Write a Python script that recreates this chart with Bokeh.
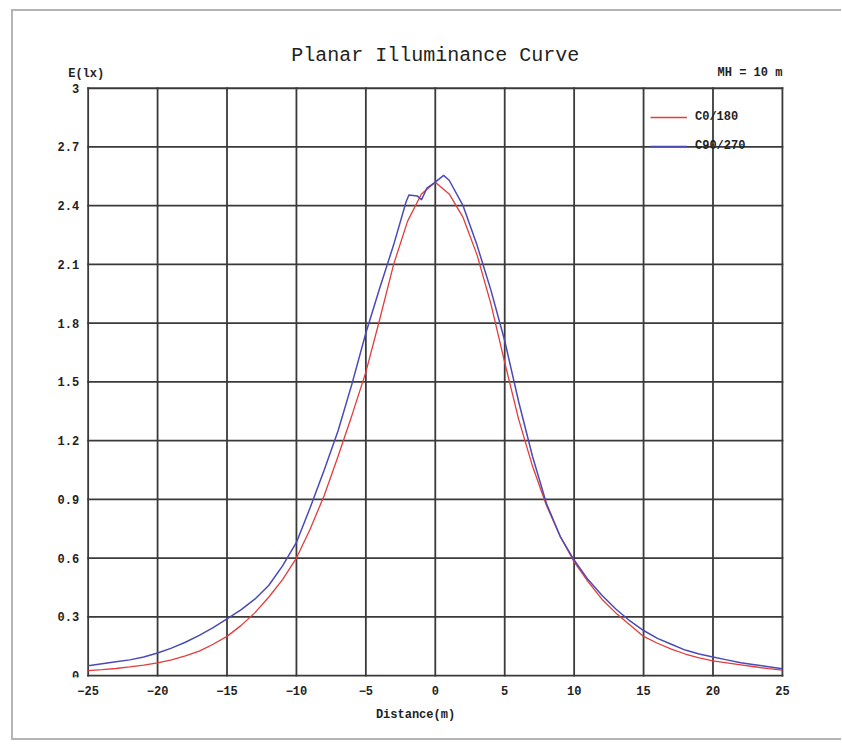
from bokeh.plotting import figure
from bokeh.models import Range1d, FixedTicker, Label
from bokeh.embed import file_html
from bokeh.resources import INLINE

# ---------------- data ----------------
title_text = "Planar Illuminance Curve"
y_axis_title = "E(lx)"
mh_text = "MH = 10 m"
x_axis_title = "Distance(m)"

x_ticks = [-25, -20, -15, -10, -5, 0, 5, 10, 15, 20, 25]
y_ticks = [0, 0.3, 0.6, 0.9, 1.2, 1.5, 1.8, 2.1, 2.4, 2.7, 3]
y_tick_labels = ["0", "0.3", "0.6", "0.9", "1.2", "1.5", "1.8", "2.1", "2.4", "2.7", "3"]

series_names = ["C0/180", "C90/270"]

c0_x = list(range(-25, 26))
c0_y = [0.025, 0.03, 0.036, 0.044, 0.053, 0.065, 0.08, 0.10, 0.125, 0.16,
        0.20, 0.255, 0.32, 0.40, 0.49, 0.60, 0.75, 0.92, 1.12, 1.33,
        1.55, 1.82, 2.10, 2.32, 2.46, 2.52, 2.46, 2.34, 2.15, 1.90,
        1.60, 1.31, 1.07, 0.87, 0.71, 0.58, 0.48, 0.39, 0.32, 0.26,
        0.20, 0.165, 0.135, 0.11, 0.09, 0.075, 0.065, 0.055, 0.045, 0.035,
        0.028]

c90_x = [-25, -24, -23, -22, -21, -20, -19, -18, -17, -16, -15, -14, -13, -12,
         -11, -10, -9, -8, -7, -6, -5, -4, -3, -2.1, -1.9, -1.3, -1.0, -0.6,
         0, 0.6, 1, 2, 3, 4, 5, 6, 7, 8, 9, 10, 11, 12, 13, 14, 15, 16, 17,
         18, 19, 20, 21, 22, 23, 24, 25]
c90_y = [0.05, 0.06, 0.07, 0.08, 0.095, 0.115, 0.14, 0.17, 0.205, 0.245,
         0.29, 0.335, 0.39, 0.46, 0.56, 0.68, 0.86, 1.05, 1.25, 1.49,
         1.75, 1.98, 2.20, 2.42, 2.455, 2.45, 2.43, 2.49,
         2.52, 2.555, 2.53, 2.40, 2.20, 1.97, 1.71, 1.40, 1.12, 0.88, 0.71, 0.59,
         0.49, 0.41, 0.34, 0.28, 0.23, 0.19, 0.16, 0.13, 0.11, 0.095,
         0.08, 0.065, 0.055, 0.045, 0.035]

# ---------------- figure ----------------
FONT = "Liberation Mono"
GRID = "#3a3a3a"
TXT = "#222222"

p = figure(
    frame_width=738, frame_height=648,
    x_range=Range1d(-28, 25.15), y_range=Range1d(-0.01, 3.3),
    output_backend="svg", toolbar_location=None,
    min_border_left=33, min_border_right=57,
    min_border_top=18, min_border_bottom=61,
    background_fill_color="white", border_fill_color="white",
)
p.styles = {
    "margin-left": "11px", "margin-top": "9px",
    "border-left": "2px solid #b4b4b4",
    "border-top": "2px solid #b4b4b4",
    "border-bottom": "2px solid #b4b4b4",
    "border-right": "0px none white",
}
p.outline_line_color = None
p.grid.visible = False

p.xaxis.ticker = FixedTicker(ticks=x_ticks)
p.yaxis.ticker = FixedTicker(ticks=y_ticks)
p.yaxis.major_label_overrides = {t: l for t, l in zip(y_ticks, y_tick_labels)}
p.yaxis.fixed_location = x_ticks[0]

for ax in (p.xaxis[0], p.yaxis[0]):
    ax.axis_line_color = None
    ax.major_tick_line_color = None
    ax.minor_tick_line_color = None
    ax.major_tick_out = 0
    ax.major_tick_in = 0
    ax.major_label_text_font = FONT
    ax.major_label_text_font_style = "bold"
    ax.major_label_text_font_size = "12px"
    ax.major_label_text_color = TXT

p.xaxis.major_label_standoff = 8
p.yaxis.major_label_standoff = 9
p.xaxis.axis_label = x_axis_title
p.xaxis.axis_label_text_font = FONT
p.xaxis.axis_label_text_font_style = "bold"
p.xaxis.axis_label_text_font_size = "12px"
p.xaxis.axis_label_text_color = TXT
p.xaxis.axis_label_standoff = 10

# grid box limited to the data area (drawn from the tick arrays)
n_x = len(x_ticks)
n_y = len(y_ticks)
p.segment(x0=x_ticks, y0=[y_ticks[0]] * n_x, x1=x_ticks, y1=[y_ticks[-1]] * n_x,
          line_color=GRID, line_width=1.8, line_cap="square")
p.segment(x0=[x_ticks[0]] * n_y, y0=y_ticks, x1=[x_ticks[-1]] * n_y, y1=y_ticks,
          line_color=GRID, line_width=1.8, line_cap="square")

p.line(c0_x, c0_y, line_color="#e23c3c", line_width=1.3, legend_label=series_names[0])
p.line(c90_x, c90_y, line_color="#4a4ab8", line_width=1.5, legend_label=series_names[1])

lg = p.legend[0]
lg.location = (604, 521)
lg.border_line_color = None
lg.background_fill_alpha = 0
lg.padding = 0
lg.margin = 0
lg.spacing = 9
lg.glyph_width = 37
lg.glyph_height = 20
lg.label_height = 20
lg.label_standoff = 8
lg.label_text_font = FONT
lg.label_text_font_style = "bold"
lg.label_text_font_size = "12px"
lg.label_text_color = TXT

p.add_layout(Label(x=0, y=3.168, text=title_text, text_align="center",
                   text_baseline="middle", text_font=FONT,
                   text_font_size="20px", text_color=TXT))
p.add_layout(Label(x=-25.14, y=3.071, text=y_axis_title, text_align="center",
                   text_baseline="middle", text_font=FONT, text_font_style="bold",
                   text_font_size="12px", text_color=TXT))
p.add_layout(Label(x=25, y=3.076, text=mh_text, text_align="right",
                   text_baseline="middle", text_font=FONT, text_font_style="bold",
                   text_font_size="12px", text_color=TXT))

open("out.html", "w").write(file_html(p, INLINE))
